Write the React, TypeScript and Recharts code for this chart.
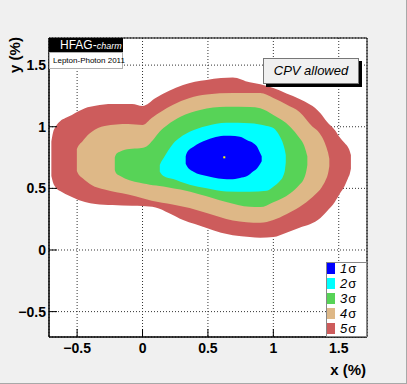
import React from "react";
import { Area, CartesianGrid, ComposedChart, ReferenceArea, Scatter, XAxis, YAxis } from "recharts";

const FONT = '"Liberation Sans", Arial, Helvetica, sans-serif';

const X_DOMAIN: [number, number] = [-0.715, 1.716];
const Y_DOMAIN: [number, number] = [-0.706, 1.72];
const MAJOR_TICKS = [-0.5, 0, 0.5, 1, 1.5];
const MINOR_TICKS = [
  -0.7, -0.6, -0.5, -0.4, -0.3, -0.2, -0.1, 0, 0.1, 0.2, 0.3, 0.4, 0.5, 0.6, 0.7, 0.8, 0.9, 1, 1.1, 1.2, 1.3, 1.4,
  1.5, 1.6, 1.7,
];

// contour bands: [x, lower y, upper y] in %
const SIGMA5 = [
  [-0.697, 0.6, 0.88],
  [-0.685, 0.55, 0.95],
  [-0.665, 0.51, 1.0],
  [-0.63, 0.478, 1.045],
  [-0.59, 0.455, 1.07],
  [-0.54, 0.43, 1.095],
  [-0.49, 0.405, 1.125],
  [-0.44, 0.39, 1.15],
  [-0.36, 0.373, 1.17],
  [-0.23, 0.364, 1.184],
  [-0.08, 0.358, 1.184],
  [0.0, 0.356, 1.168],
  [0.1, 0.345, 1.233],
  [0.2, 0.3, 1.29],
  [0.31, 0.243, 1.339],
  [0.4, 0.21, 1.365],
  [0.49, 0.178, 1.38],
  [0.6, 0.14, 1.395],
  [0.69, 0.12, 1.4],
  [0.82, 0.105, 1.36],
  [0.9, 0.1, 1.345],
  [1.0, 0.105, 1.314],
  [1.1, 0.14, 1.27],
  [1.2, 0.18, 1.225],
  [1.36, 0.26, 1.11],
  [1.41, 0.315, 1.04],
  [1.47, 0.39, 0.973],
  [1.51, 0.46, 0.91],
  [1.545, 0.52, 0.868],
  [1.57, 0.58, 0.835],
  [1.585, 0.62, 0.8],
  [1.593, 0.66, 0.77],
];

const SIGMA4 = [
  [-0.502, 0.64, 0.82],
  [-0.49, 0.615, 0.845],
  [-0.46, 0.585, 0.88],
  [-0.42, 0.55, 0.93],
  [-0.39, 0.527, 0.957],
  [-0.29, 0.49, 1.006],
  [-0.11, 0.45, 1.022],
  [0.0, 0.42, 1.014],
  [0.07, 0.4, 1.071],
  [0.23, 0.37, 1.176],
  [0.36, 0.34, 1.233],
  [0.49, 0.3, 1.262],
  [0.69, 0.24, 1.273],
  [0.9, 0.22, 1.273],
  [1.0, 0.243, 1.233],
  [1.1, 0.29, 1.18],
  [1.2, 0.348, 1.119],
  [1.3, 0.43, 1.0],
  [1.34, 0.47, 0.965],
  [1.37, 0.51, 0.92],
  [1.4, 0.567, 0.85],
  [1.418, 0.62, 0.79],
  [1.428, 0.68, 0.74],
];

const SIGMA3 = [
  [-0.212, 0.65, 0.75],
  [-0.2, 0.62, 0.78],
  [-0.17, 0.6, 0.8],
  [-0.1, 0.565, 0.819],
  [-0.02, 0.545, 0.825],
  [0.03, 0.535, 0.84],
  [0.08, 0.525, 0.892],
  [0.13, 0.52, 0.959],
  [0.19, 0.51, 1.014],
  [0.29, 0.49, 1.081],
  [0.44, 0.45, 1.136],
  [0.64, 0.39, 1.162],
  [0.82, 0.35, 1.16],
  [0.9, 0.348, 1.15],
  [1.0, 0.388, 1.095],
  [1.13, 0.461, 0.998],
  [1.2, 0.53, 0.908],
  [1.23, 0.57, 0.86],
  [1.25, 0.63, 0.8],
  [1.26, 0.69, 0.76],
];

const SIGMA2 = [
  [0.132, 0.635, 0.69],
  [0.145, 0.615, 0.72],
  [0.16, 0.6, 0.745],
  [0.235, 0.575, 0.865],
  [0.29, 0.554, 0.915],
  [0.36, 0.53, 0.959],
  [0.49, 0.5, 1.006],
  [0.64, 0.475, 1.032],
  [0.82, 0.472, 1.028],
  [0.95, 0.48, 1.005],
  [1.0, 0.513, 0.989],
  [1.05, 0.56, 0.92],
  [1.075, 0.6, 0.86],
  [1.09, 0.66, 0.8],
  [1.095, 0.71, 0.77],
];

const SIGMA1 = [
  [0.33, 0.7, 0.76],
  [0.34, 0.68, 0.79],
  [0.39, 0.635, 0.838],
  [0.49, 0.6, 0.892],
  [0.54, 0.589, 0.91],
  [0.62, 0.576, 0.927],
  [0.67, 0.573, 0.927],
  [0.745, 0.585, 0.919],
  [0.8, 0.6, 0.89],
  [0.85, 0.64, 0.865],
  [0.875, 0.662, 0.84],
  [0.9, 0.7, 0.784],
  [0.911, 0.72, 0.76],
];

const BEST_FIT = [{ x: 0.625, y: 0.752 }];

const CONTOURS = [
  { key: "s5", label: "5", color: "#cd5c5c", points: SIGMA5 },
  { key: "s4", label: "4", color: "#deb887", points: SIGMA4 },
  { key: "s3", label: "3", color: "#57d357", points: SIGMA3 },
  { key: "s2", label: "2", color: "#00ffff", points: SIGMA2 },
  { key: "s1", label: "1", color: "#0000ff", points: SIGMA1 },
];

// one shared table keyed on x; each band fills only its own rows
const rowMap = new Map<number, Record<string, any>>();
CONTOURS.forEach((c) => {
  c.points.forEach(([x, lo, hi]) => {
    const row = rowMap.get(x) ?? { x };
    row[c.key] = [lo, hi];
    rowMap.set(x, row);
  });
});
const chartData = [...rowMap.values()].sort((a, b) => a.x - b.x);

const fmt = (v: number) => String(v).replace("-", "\u2212");
const tickStyle = { fill: "#000", fontSize: 14, fontWeight: "bold", fontFamily: FONT };

export default function App() {
  return (
    <div
      style={{
        position: "absolute",
        left: 0,
        top: 0,
        width: 407,
        height: 384,
        background: "#f0f0f0",
        borderRight: "1px solid #a8a8a8",
        borderBottom: "1px solid #a8a8a8",
        boxSizing: "border-box",
        fontFamily: FONT,
      }}
    >
      <ComposedChart
        width={407}
        height={384}
        data={chartData}
        margin={{ top: 38, right: 40, bottom: 45, left: 47 }}
      >
        <CartesianGrid fill="#fff" horizontal={false} vertical={false} />
        <XAxis
          type="number"
          dataKey="x"
          domain={X_DOMAIN}
          ticks={MAJOR_TICKS}
          interval={0}
          allowDataOverflow
          height={1}
          tickSize={-8}
          tickMargin={14}
          tickFormatter={fmt}
          tick={tickStyle}
          axisLine={{ stroke: "#000" }}
          tickLine={{ stroke: "#000" }}
        />
        <XAxis
          xAxisId="minor"
          type="number"
          dataKey="x"
          domain={X_DOMAIN}
          ticks={MINOR_TICKS}
          interval={0}
          allowDataOverflow
          height={1}
          tickSize={-5}
          tick={false}
          axisLine={false}
          tickLine={{ stroke: "#000" }}
        />
        <YAxis
          type="number"
          domain={Y_DOMAIN}
          ticks={MAJOR_TICKS}
          interval={0}
          allowDataOverflow
          width={1}
          tickSize={-8}
          tickMargin={11}
          tickFormatter={fmt}
          tick={tickStyle}
          axisLine={{ stroke: "#000" }}
          tickLine={{ stroke: "#000" }}
        />
        <YAxis
          yAxisId="minor"
          type="number"
          domain={Y_DOMAIN}
          ticks={MINOR_TICKS}
          interval={0}
          allowDataOverflow
          width={1}
          tickSize={-5}
          tick={false}
          axisLine={false}
          tickLine={{ stroke: "#000" }}
        />
        {CONTOURS.map((c) => (
          <Area
            key={c.key}
            dataKey={c.key}
            type="monotone"
            connectNulls
            stroke="none"
            fill={c.color}
            fillOpacity={1}
            dot={false}
            activeDot={false}
            isAnimationActive={false}
          />
        ))}
        <Scatter
          data={BEST_FIT}
          dataKey="y"
          isAnimationActive={false}
          shape={(p: any) => <rect x={p.cx - 1} y={p.cy - 1} width={2} height={2} fill="#ffff00" />}
        />
        <CartesianGrid stroke="#333" strokeDasharray="1 2" fill="none" />
        <ReferenceArea
          x1={X_DOMAIN[0]}
          x2={X_DOMAIN[1]}
          y1={Y_DOMAIN[0]}
          y2={Y_DOMAIN[1]}
          fill="none"
          stroke="#000"
          strokeOpacity={1}
        />
      </ComposedChart>

      {/* axis titles */}
      <div
        style={{
          position: "absolute",
          left: 14,
          top: 55,
          transform: "translate(-50%, -50%) rotate(-90deg)",
          whiteSpace: "nowrap",
          fontSize: 15,
          fontWeight: "bold",
        }}
      >
        y (%)
      </div>
      <div
        style={{
          position: "absolute",
          right: 40,
          top: 361,
          whiteSpace: "nowrap",
          fontSize: 15,
          fontWeight: "bold",
        }}
      >
        x (%)
      </div>

      {/* HFAG tag */}
      <div
        style={{
          position: "absolute",
          left: 49,
          top: 38,
          width: 74,
          height: 14,
          background: "#000",
          color: "#fff",
          lineHeight: "14px",
          paddingLeft: 11,
          boxSizing: "border-box",
          whiteSpace: "nowrap",
          fontSize: 12,
        }}
      >
        HFAG-<span style={{ fontStyle: "italic", fontSize: 9 }}>charm</span>
      </div>
      <div
        style={{
          position: "absolute",
          left: 49,
          top: 52,
          width: 74,
          height: 17,
          background: "#fff",
          border: "1px solid #b0b0b0",
          boxSizing: "border-box",
          fontSize: 8,
          lineHeight: "15px",
          paddingLeft: 3,
          whiteSpace: "nowrap",
          color: "#000",
        }}
      >
        Lepton-Photon 2011
      </div>

      {/* CPV allowed box with shadow */}
      <div style={{ position: "absolute", left: 266, top: 61, width: 96, height: 26, background: "#000" }} />
      <div
        style={{
          position: "absolute",
          left: 263,
          top: 58,
          width: 96,
          height: 26,
          background: "#f0f0f0",
          border: "1px solid #777",
          boxSizing: "border-box",
          fontSize: 13,
          fontStyle: "italic",
          lineHeight: "24px",
          textAlign: "center",
          color: "#000",
        }}
      >
        CPV allowed
      </div>

      {/* legend */}
      <div
        style={{
          position: "absolute",
          left: 326,
          top: 262,
          width: 41,
          height: 75,
          background: "#fff",
          border: "1px solid #888",
          boxSizing: "border-box",
        }}
      >
        {[...CONTOURS].reverse().map((c, i) => (
          <div key={c.key} style={{ position: "absolute", left: 0, top: 15 * i, height: 12, width: 40 }}>
            <div style={{ position: "absolute", left: 0, top: 0, width: 8, height: 11, background: c.color }} />
            <div
              style={{
                position: "absolute",
                left: 13,
                top: -1,
                fontSize: 13,
                lineHeight: "13px",
                fontStyle: "italic",
                whiteSpace: "nowrap",
                color: "#000",
              }}
            >
              {c.label}
              <span style={{ fontStyle: "normal", marginLeft: 1 }}>σ</span>
            </div>
          </div>
        ))}
      </div>
    </div>
  );
}
